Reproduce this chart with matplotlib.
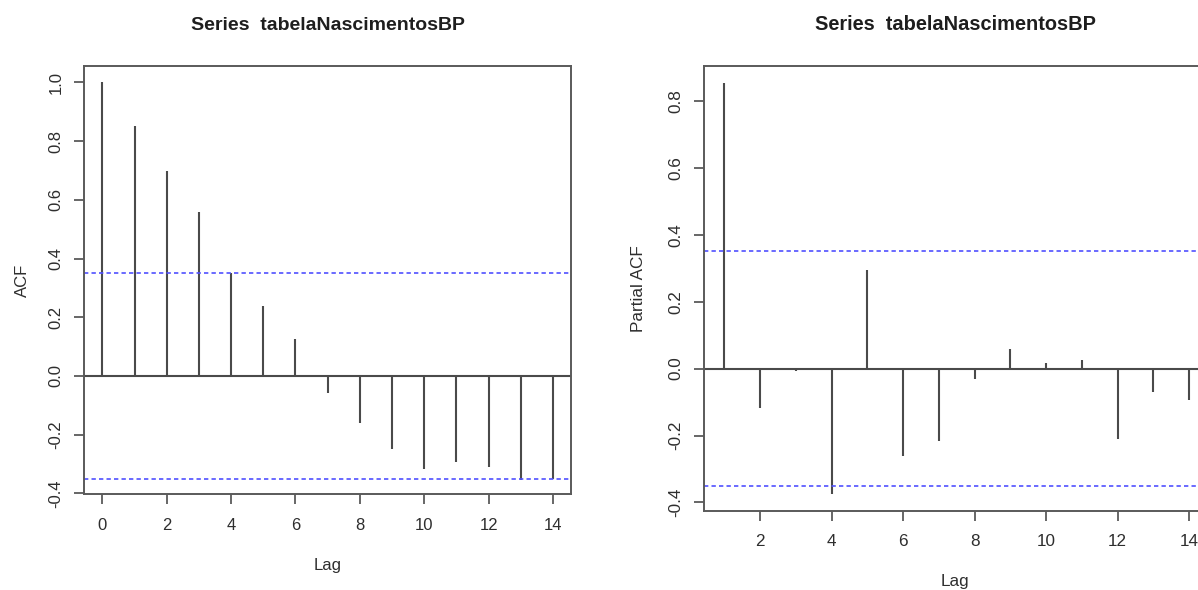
import matplotlib
matplotlib.use("Agg")
import matplotlib.pyplot as plt

plt.rcParams['font.family'] = ['Liberation Sans', 'DejaVu Sans']
plt.rcParams['axes.unicode_minus'] = False

# values
acf_lags = [0, 1, 2, 3, 4, 5, 6, 7, 8, 9, 10, 11, 12, 13, 14]
acf_vals = [1.0, 0.852, 0.697, 0.560, 0.351, 0.239, 0.126, -0.058, -0.162,
            -0.249, -0.317, -0.294, -0.310, -0.353, -0.352]
pacf_lags = [1, 2, 3, 4, 5, 6, 7, 8, 9, 10, 11, 12, 13, 14]
pacf_vals = [0.852, -0.118, -0.007, -0.376, 0.296, -0.260, -0.217, -0.030,
             0.060, 0.018, 0.027, -0.210, -0.070, -0.093]
conf = 0.352
title = "Series  tabelaNascimentosBP"
acf_yticks = [-0.4, -0.2, 0.0, 0.2, 0.4, 0.6, 0.8, 1.0]
pacf_yticks = [-0.4, -0.2, 0.0, 0.2, 0.4, 0.6, 0.8]
xticks_acf = [0, 2, 4, 6, 8, 10, 12, 14]
xticks_pacf = [2, 4, 6, 8, 10, 12, 14]

line_col = "#4a4a4a"
frame_col = "#5a5a5a"
text_col = "#2e2e2e"
blue = "#5050ff"

fig = plt.figure(figsize=(11.98, 5.90), dpi=100)
ax1 = fig.add_axes([0.0704, 0.1619, 0.4062, 0.7257])
ax2 = fig.add_axes([0.5879, 0.1347, 0.4188, 0.7539])


def r_plot(ax, lags, vals, ylabel, xlim, ylim, xticks, yticks, fs, ypad):
    ax.vlines(lags, 0, vals, color=line_col, lw=1.5)
    ax.axhline(0, color=line_col, lw=1.5)
    for c in (conf, -conf):
        ax.axhline(c, color=blue, lw=1.2, dashes=(2.6, 1.9))
    ax.set_xlim(xlim)
    ax.set_ylim(ylim)
    ax.set_xticks(xticks)
    ax.set_yticks(yticks)
    ax.set_yticklabels(["%.1f" % t for t in yticks], rotation=90, va="center")
    for s in ax.spines.values():
        s.set_color(frame_col)
        s.set_linewidth(1.4)
    ax.tick_params(length=7, width=1.3, color=frame_col, labelcolor=text_col,
                   labelsize=fs)
    ax.tick_params(axis="x", pad=10)
    ax.tick_params(axis="y", pad=8)
    ax.set_xlabel("Lag", fontsize=fs, color=text_col, labelpad=18)
    ax.set_ylabel(ylabel, fontsize=fs, color=text_col, labelpad=ypad)
    ax.set_title(title, fontsize=fs * 1.17, fontweight="bold", color="#1e1e1e",
                 pad=26)


r_plot(ax1, acf_lags, acf_vals, "ACF", (-0.56, 14.56), (-0.404, 1.055),
       xticks_acf, acf_yticks, 12.0, 13)
r_plot(ax2, pacf_lags, pacf_vals, "Partial ACF", (0.44, 14.47), (-0.424, 0.905),
       xticks_pacf, pacf_yticks, 12.35, 16)

fig.savefig("out.png", dpi=100, facecolor="white")
